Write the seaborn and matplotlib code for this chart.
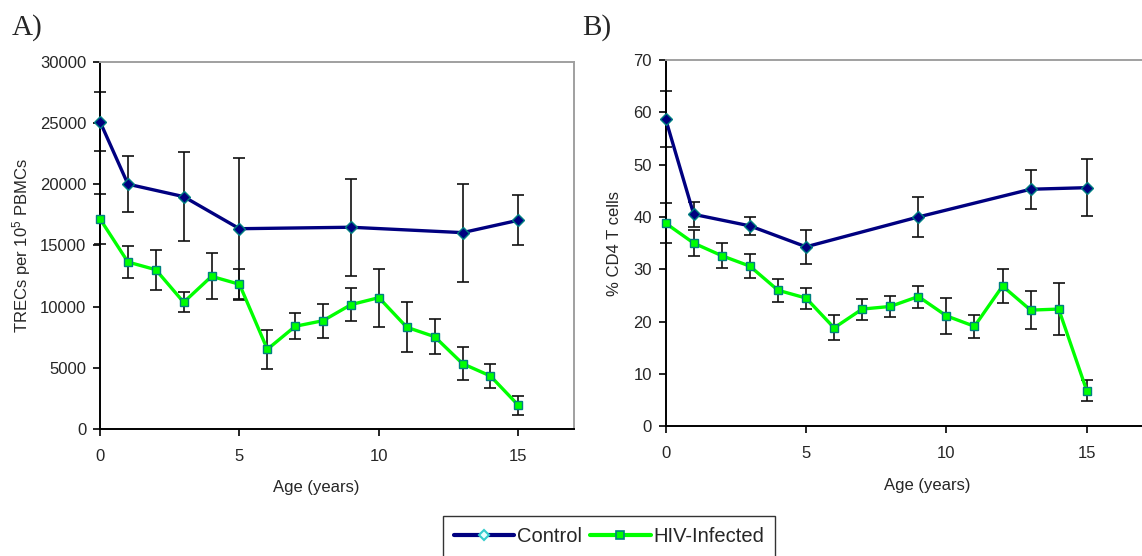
import numpy as np
import pandas as pd
import matplotlib
matplotlib.use("Agg")
import matplotlib.pyplot as plt
from matplotlib.lines import Line2D
import seaborn as sns

# ---------------- data ----------------
ctrl_age_A = [0, 1, 3, 5, 9, 13, 15]
ctrl_trec = [25100, 20000, 18980, 16360, 16480, 16040, 17050]
ctrl_trec_err = [2400, 2300, 3650, 5750, 3970, 4000, 2050]

hiv_age = [0, 1, 2, 3, 4, 5, 6, 7, 8, 9, 10, 11, 12, 13, 14, 15]
hiv_trec = [17160, 13640, 13010, 10350, 12470, 11820, 6510, 8390, 8850,
            10160, 10730, 8310, 7540, 5340, 4330, 1940]
hiv_trec_err = [2050, 1300, 1640, 830, 1870, 1270, 1580, 1050, 1390,
                1370, 2360, 2050, 1430, 1360, 1000, 770]

ctrl_age_B = [0, 1, 3, 5, 9, 13, 15]
ctrl_cd4 = [58.7, 40.5, 38.3, 34.3, 40.0, 45.3, 45.6]
ctrl_cd4_err = [5.4, 2.4, 1.7, 3.3, 3.9, 3.7, 5.5]

hiv_cd4 = [38.8, 35.0, 32.6, 30.6, 26.0, 24.5, 18.8, 22.4, 22.9, 24.8,
           21.1, 19.1, 26.8, 22.2, 22.4, 6.8]
hiv_cd4_err = [3.8, 2.5, 2.4, 2.3, 2.2, 2.0, 2.4, 2.0, 2.0, 2.1,
               3.5, 2.2, 3.2, 3.7, 4.9, 2.0]

series_labels = ["Control", "HIV-Infected"]
xticks = [0, 5, 10, 15]

# ---------------- style ----------------
sns.set_theme(style="white")
plt.rcParams['font.family'] = ['Liberation Sans', 'DejaVu Sans']
plt.rcParams['mathtext.fontset'] = 'custom'
plt.rcParams['mathtext.rm'] = 'Liberation Sans'
plt.rcParams['mathtext.it'] = 'Liberation Sans'
plt.rcParams['mathtext.default'] = 'regular'

NAVY = '#000080'
LIME = '#00FF00'
EDGE = '#008080'

fig = plt.figure(figsize=(11.42, 5.56), dpi=100)
axA = fig.add_axes([0.0876, 0.2284, 0.4151, 0.6606])
axB = fig.add_axes([0.5829, 0.2333, 0.4179, 0.6588])


def draw(ax, cx, cy, ce, hx, hy, he, ymax, ystep):
    dfc = pd.DataFrame({"age": cx, "val": cy})
    dfh = pd.DataFrame({"age": hx, "val": hy})
    for x, y, e in ((cx, cy, ce), (hx, hy, he)):
        eb = ax.errorbar(x, y, yerr=e, fmt='none', ecolor='#111111',
                         elinewidth=1.2, capsize=4.5, capthick=1.2, zorder=2)
        for art in eb.lines[1]:
            art.set_clip_on(False)
        for art in eb.lines[2]:
            art.set_clip_on(False)
    sns.lineplot(data=dfc, x="age", y="val", ax=ax, color=NAVY, lw=2.4,
                 marker='D', markersize=6, markerfacecolor=NAVY,
                 markeredgecolor=EDGE, markeredgewidth=1.0, errorbar=None,
                 zorder=3)
    sns.lineplot(data=dfh, x="age", y="val", ax=ax, color=LIME, lw=2.4,
                 marker='s', markersize=6, markerfacecolor=LIME,
                 markeredgecolor=EDGE, markeredgewidth=1.0, errorbar=None,
                 zorder=3)
    for ln in ax.lines:
        ln.set_clip_on(False)
    ax.set_xlim(0, 17)
    ax.set_ylim(0, ymax)
    ax.set_xticks(xticks)
    ax.set_yticks(np.arange(0, ymax + 1, ystep))
    ax.tick_params(axis='both', which='major', labelsize=12, direction='out',
                   length=5, width=1.2, color='black')
    ax.tick_params(axis='x', pad=9.5, bottom=True)
    ax.tick_params(axis='y', pad=5, left=True)
    for s in ['left', 'bottom']:
        ax.spines[s].set_color('black')
        ax.spines[s].set_linewidth(1.4)
    for s in ['top', 'right']:
        ax.spines[s].set_color('#A0A0A0')
        ax.spines[s].set_linewidth(1.4)
    ax.grid(False)
    ax.set_facecolor('white')


draw(axA, ctrl_age_A, ctrl_trec, ctrl_trec_err, hiv_age, hiv_trec, hiv_trec_err,
     30000, 5000)
draw(axB, ctrl_age_B, ctrl_cd4, ctrl_cd4_err, hiv_age, hiv_cd4, hiv_cd4_err,
     70, 10)

axA.set_xlabel("Age (years)", fontsize=12)
axA.set_ylabel("TRECs per 10$^5$ PBMCs", fontsize=12)
axB.set_xlabel("Age (years)", fontsize=12)
axB.set_ylabel("% CD4 T cells", fontsize=12)
axA.xaxis.set_label_coords(0.456, -0.14)
axB.xaxis.set_label_coords(0.548, -0.14)
axA.yaxis.set_label_coords(-0.142, 0.5)
axB.yaxis.set_label_coords(-0.0916, 0.5)

fig.text(12 / 1142, 1 - 35 / 556, "A)", family=['Liberation Serif', 'DejaVu Serif'],
         fontsize=21, va='baseline', ha='left')
fig.text(582 / 1142, 1 - 35 / 556, "B)", family=['Liberation Serif', 'DejaVu Serif'],
         fontsize=21, va='baseline', ha='left')

handles = [
    Line2D([], [], color=NAVY, lw=3, marker='D', markersize=5.5,
           markerfacecolor='#E6FFFF', markeredgecolor='#33CCCC', markeredgewidth=1.5),
    Line2D([], [], color=LIME, lw=3, marker='s', markersize=6,
           markerfacecolor=LIME, markeredgecolor=EDGE, markeredgewidth=1.2),
]
leg = fig.legend(handles, series_labels, loc='upper center',
                 bbox_to_anchor=(609 / 1142, 1 - 515.7 / 556), ncol=2,
                 frameon=True, fancybox=False, edgecolor='black', fontsize=14.5,
                 handlelength=3.0, handletextpad=0.15, columnspacing=0.4,
                 borderaxespad=0, borderpad=0.55)
leg.get_frame().set_linewidth(1.0)

fig.savefig("out.png", dpi=100, facecolor='white')
